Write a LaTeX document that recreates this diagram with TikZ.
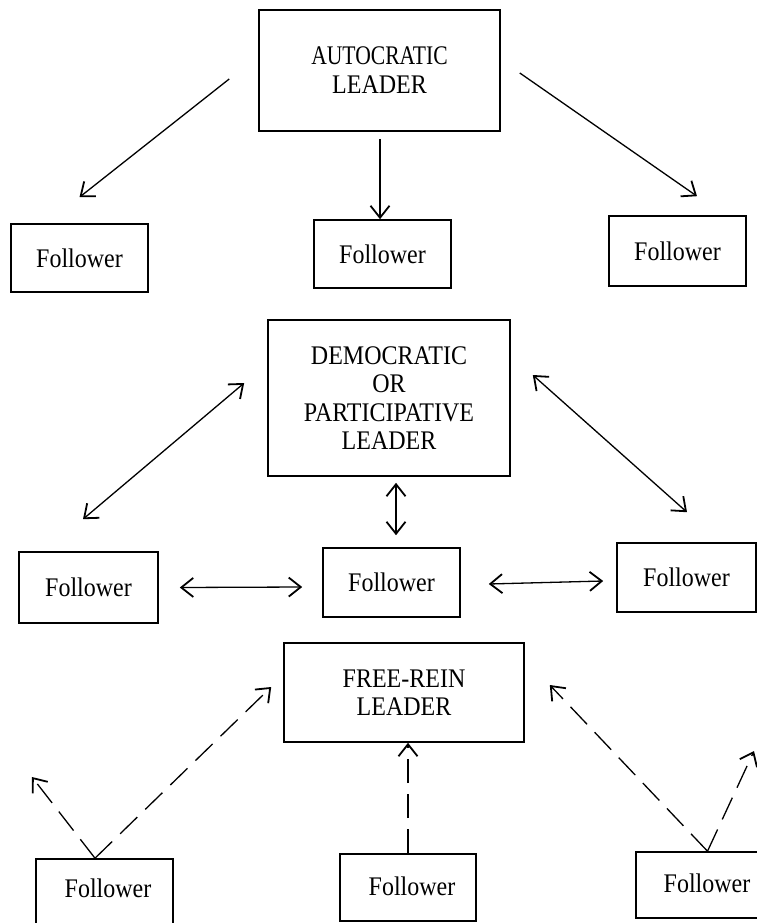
\documentclass[tikz,border=0pt]{standalone}
\usepackage{fontspec}
\setmainfont{Liberation Serif}
\usetikzlibrary{arrows.meta,calc}

% slightly tall lettering, as in the typed original
\newcommand{\tallt}[1]{\scalebox{1}[1.12]{#1}}

\begin{document}
\begin{tikzpicture}[x=1pt,y=-1pt,
  >={Straight Barb[length=12pt,width=19pt,line width=1.8pt]},
  box/.style={draw,line width=1.6pt,inner sep=0pt,align=center,
    font=\fontsize{24}{28.5}\selectfont},
  label/.style={inner sep=0pt,align=center,font=\fontsize{24}{28.5}\selectfont},
  link/.style={line width=1.3pt},
  dashline/.style={line width=1.3pt,dash pattern=on 24pt off 11pt}]

\useasboundingbox (0,0) rectangle (757,923);
\clip (0,0) rectangle (757,923);

% ---------- autocratic style ----------
\node[box,minimum width=241pt,minimum height=121pt] (A) at (379.5,70.5)
  {\scalebox{0.9}[1.12]{AUTOCRATIC}\\[0.5pt]\tallt{LEADER}};
\node[box,minimum width=137pt,minimum height=68pt] (F1) at (79.5,258) {\tallt{Follower}};
\node[box,minimum width=137pt,minimum height=68pt] (F2) at (382.5,254) {\tallt{Follower}};
\node[box,minimum width=137pt,minimum height=70pt] (F3) at (677.5,251) {\tallt{Follower}};

\draw[link,->] ([shift={(-29,8.5)}]A.west) -- ([shift={(0,-26)}]F1.north);
\draw[link,->] ([shift={(0.5,7)}]A.south) -- ([shift={(-2.5,0)}]F2.north);
\draw[link,->] ([shift={(19,2.5)}]A.east) -- ([shift={(19.5,-19)}]F3.north);

% ---------- democratic / participative style ----------
\node[box,minimum width=242pt,minimum height=156pt] (D) at (389,398)
  {\tallt{DEMOCRATIC}\\\tallt{OR}\\\tallt{PARTICIPATIVE}\\\tallt{LEADER}};
\node[box,minimum width=139pt,minimum height=71pt] (G1) at (88.5,587.5) {\tallt{Follower}};
\node[box,minimum width=137pt,minimum height=69pt] (G2) at (391.5,582.5) {\tallt{Follower}};
\node[box,minimum width=139pt,minimum height=69pt] (G3) at (686.5,577.5) {\tallt{Follower}};

\draw[link,<->] ([shift={(-23,-15)}]D.west) -- ([shift={(-5.5,-32)}]G1.north);
\draw[link,<->] ([shift={(22,-23)}]D.east) -- ([shift={(0.5,-30)}]G3.north);
\draw[link,<->] ([shift={(7,6)}]D.south) -- ([shift={(4.5,-12)}]G2.north);
\draw[link,<->] ([shift={(21,0)}]G1.east) -- ([shift={(-20,4.5)}]G2.west);
\draw[link,<->] ([shift={(28,1.5)}]G2.east) -- ([shift={(-13,3.5)}]G3.west);

% ---------- free-rein style ----------
\node[box,minimum width=240pt,minimum height=99pt] (R) at (404,692.5)
  {\tallt{FREE-REIN}\\\tallt{LEADER}};
\node[box,minimum width=137pt,minimum height=76pt] (H1) at (104.5,897) {};
\node[box,minimum width=136pt,minimum height=67pt] (H2) at (408,887.5) {};
\node[box,minimum width=139pt,minimum height=66pt] (H3) at (705.5,885) {};
\node[label] (h1t) at (108,888) {\tallt{Follower}};
\node[label] (h2t) at (412,886) {\tallt{Follower}};
\node[label] (h3t) at (707,883) {\tallt{Follower}};

\coordinate (h1free) at (32,777);
\coordinate (h3free) at (754,751);

\draw[dashline,->] ([shift={(-9.5,0)}]H1.north) -- ([shift={(-12,-5.5)}]R.west);
\draw[dashline,->] ([shift={(-9.5,0)}]H1.north) -- (h1free);
\draw[dashline,->] (H2.north) -- (H2.north |- R.south);
\draw[dashline,->] ([shift={(2,0)}]H3.north) -- ([shift={(25,-7.5)}]R.east);
\draw[dashline,->] ([shift={(2,0)}]H3.north) -- (h3free);

\end{tikzpicture}
\end{document}
